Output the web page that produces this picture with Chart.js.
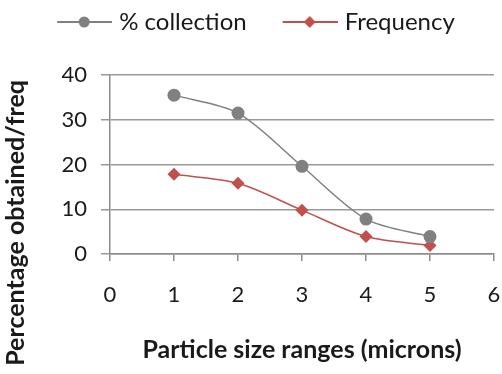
<!DOCTYPE html>
<html>
<head>
<meta charset="utf-8">
<script src="https://cdn.jsdelivr.net/npm/chart.js@4/dist/chart.umd.min.js"></script>
<style>
  html, body { margin: 0; padding: 0; background: #fff; }
  #wrap { width: 502px; height: 374px; }
</style>
</head>
<body>
<div id="wrap"><canvas id="myChart"></canvas></div>
<script>
// particle size ranges (microns)
const sizes = [1, 2, 3, 4, 5];
const collection = [35.5, 31.5, 19.6, 7.8, 3.9];
const frequency = [17.8, 15.8, 9.8, 3.9, 1.9];
const xTicks = [0, 1, 2, 3, 4, 5, 6];
const yTicks = [0, 10, 20, 30, 40];

const grayColor = "#808080";
const redColor = "#c0504d";
const textColor = "#1a1a1a";
const fontFamily = "Lato, 'Noto Sans', sans-serif";

// line + marker drawn on a small canvas, used as the legend symbol
function legendSymbol(color, style) {
  const c = document.createElement("canvas");
  c.width = 86;
  c.height = 16;
  const g = c.getContext("2d");
  g.strokeStyle = color;
  g.lineWidth = 2;
  g.beginPath();
  g.moveTo(31, 8);
  g.lineTo(86, 8);
  g.stroke();
  g.fillStyle = color;
  g.beginPath();
  if (style === "circle") {
    g.arc(58, 8, 5.5, 0, Math.PI * 2);
  } else {
    g.moveTo(58, 2);
    g.lineTo(64, 8);
    g.lineTo(58, 14);
    g.lineTo(52, 8);
    g.closePath();
  }
  g.fill();
  return c;
}

// legend sits at the very top, above the gap over the plot
const legendPlace = {
  id: "legendPlace",
  afterLayout(chart) {
    const lg = chart.legend;
    const h = lg.bottom - lg.top;
    lg.top = 0;
    lg.bottom = h;
    lg.left -= 8;
    lg.right -= 8;
  },
};

const yTitlePlugin = {
  id: "yTitle",
  afterDraw(chart) {
    const ctx = chart.ctx;
    ctx.save();
    ctx.translate(16, 80);
    ctx.rotate(-Math.PI / 2);
    ctx.font = "bold 25px " + fontFamily;
    ctx.fillStyle = textColor;
    ctx.textAlign = "right";
    ctx.textBaseline = "middle";
    ctx.fillText("Percentage obtained/freq", 0, 0);
    ctx.restore();
  },
};

function toPoints(values) {
  return values.map((v, i) => ({ x: sizes[i], y: v }));
}

const ctx = document.getElementById("myChart").getContext("2d");
const myChart = new Chart(ctx, {
  type: "line",
  data: {
    datasets: [
      {
        label: "% collection",
        data: toPoints(collection),
        borderColor: grayColor,
        backgroundColor: grayColor,
        borderWidth: 1.5,
        pointStyle: "circle",
        pointRadius: 6.5,
        pointBorderWidth: 0,
        tension: 0.3,
      },
      {
        label: "Frequency",
        data: toPoints(frequency),
        borderColor: redColor,
        backgroundColor: redColor,
        borderWidth: 1.5,
        pointStyle: "rectRot",
        pointRadius: 6.5,
        pointBorderWidth: 0,
        tension: 0.3,
      },
    ],
  },
  options: {
    responsive: true,
    maintainAspectRatio: false,
    animation: false,
    layout: { padding: 0 },
    plugins: {
      tooltip: { enabled: false },
      legend: {
        position: "top",
        labels: {
          usePointStyle: true,
          pointStyleWidth: 76,
          padding: 10,
          color: textColor,
          font: { family: fontFamily, size: 24 },
          generateLabels(chart) {
            return chart.data.datasets.map((ds, i) => ({
              text: ds.label,
              pointStyle: legendSymbol(ds.borderColor, ds.pointStyle),
              fillStyle: ds.borderColor,
              strokeStyle: ds.borderColor,
              lineWidth: 0,
              fontColor: textColor,
              datasetIndex: i,
            }));
          },
        },
      },
    },
    scales: {
      x: {
        type: "linear",
        min: 0,
        max: 6,
        afterBuildTicks(scale) {
          scale.ticks = xTicks.map((v) => ({ value: v }));
        },
        afterFit(scale) {
          scale.height = 120;
          scale.paddingLeft = 0;
          scale.paddingRight = 8;
        },
        grid: {
          drawOnChartArea: false,
          drawTicks: true,
          tickLength: 7,
          color: "#8c8c8c",
          lineWidth: 1.5,
        },
        border: { color: "#8c8c8c", width: 1.5 },
        ticks: {
          padding: 21,
          color: textColor,
          font: { family: fontFamily, size: 22 },
        },
        title: {
          display: true,
          text: "Particle size ranges (microns)",
          color: textColor,
          font: { family: fontFamily, size: 25, weight: "bold" },
          padding: { top: 0, bottom: 9 },
        },
      },
      y: {
        min: 0,
        max: 40,
        afterBuildTicks(scale) {
          scale.ticks = yTicks.map((v) => ({ value: v }));
        },
        afterFit(scale) {
          scale.width = 110;
          scale.paddingTop = 75;
        },
        grid: {
          color: "#999999",
          lineWidth: 1.5,
          tickLength: 9,
        },
        border: { color: "#8c8c8c", width: 1.5 },
        ticks: {
          padding: 14,
          color: textColor,
          font: { family: fontFamily, size: 22 },
        },
      },
    },
  },
  plugins: [legendPlace, yTitlePlugin],
});
</script>
</body>
</html>
